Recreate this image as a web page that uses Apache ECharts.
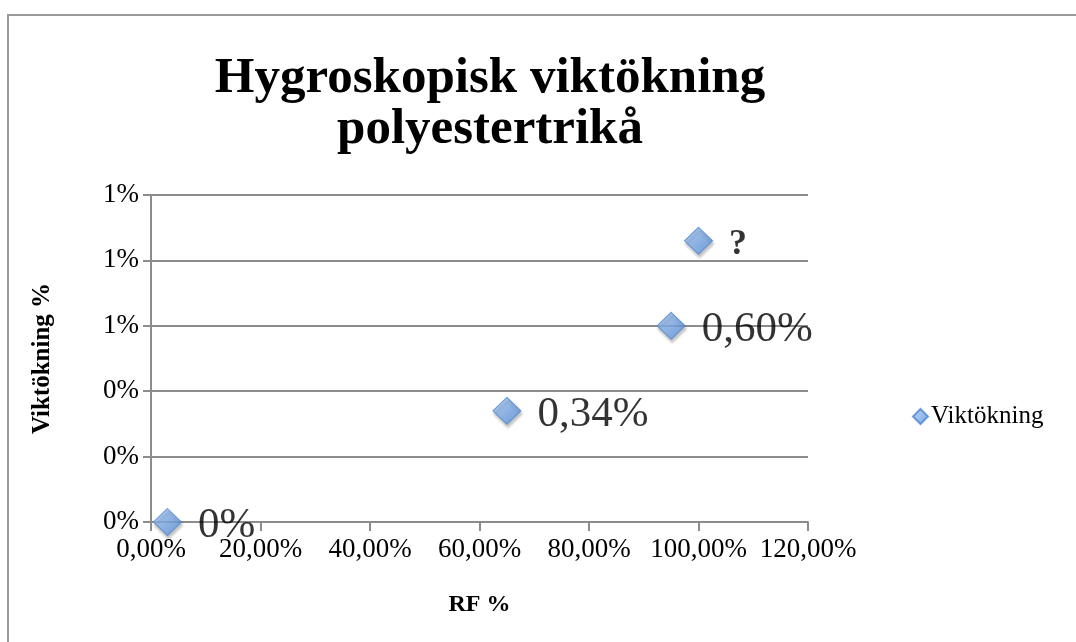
<!DOCTYPE html>
<html>
<head>
<meta charset="utf-8">
<script src="https://cdn.jsdelivr.net/npm/echarts@6/dist/echarts.min.js"></script>
<style>
  html, body { margin: 0; padding: 0; background: #fff; }
  #chart { width: 1076px; height: 642px; }
</style>
</head>
<body>
<div id="chart"></div>
<script>
// RF (fraction) and weight gain (fraction)
const rfValues = [0.03, 0.65, 0.95, 1.0];
const gainValues = [0, 0.0034, 0.006, 0.0086];
const pointLabels = ['0%', '0,34%', '0,60%', '?'];
const seriesName = 'Viktökning';

const FONT = '"Liberation Serif", "DejaVu Serif", serif';

let chart = echarts.init(document.getElementById('chart'));

let points = rfValues.map((x, i) => ({
    value: [x, gainValues[i]],
    label: {
        formatter: pointLabels[i],
        fontWeight: pointLabels[i] === '?' ? 'bold' : 'normal',
        fontSize: pointLabels[i] === '?' ? 36 : 43
    }
}));

chart.setOption({
    animation: false,
    graphic: [{
        type: 'rect',
        shape: { x: 8, y: 15, width: 1200, height: 800 },
        style: { fill: 'none', stroke: '#9a9a9a', lineWidth: 2 },
        silent: true
    }],
    title: {
        text: 'Hygroskopisk viktökning\npolyestertrikå',
        left: 485,
        top: 48,
        textAlign: 'center',
        textStyle: {
            fontFamily: FONT,
            fontWeight: 'bold',
            fontSize: 51,
            lineHeight: 51,
            color: '#000'
        }
    },
    legend: {
        data: [seriesName],
        left: 907,
        top: 399,
        icon: 'diamond',
        itemWidth: 15,
        itemHeight: 15,
        itemGap: 4,
        textStyle: { fontFamily: FONT, fontSize: 25, color: '#000', padding: [0, 0, 0, -2] }
    },
    grid: { left: 151, right: 268, top: 195, bottom: 120 },
    xAxis: {
        type: 'value',
        min: 0,
        max: 1.2,
        interval: 0.2,
        name: 'RF %',
        nameLocation: 'middle',
        nameGap: 71,
        nameTextStyle: { fontFamily: FONT, fontWeight: 'bold', fontSize: 24, color: '#000' },
        axisLine: { lineStyle: { color: '#8c8c8c', width: 2 } },
        axisTick: { show: true, length: 9, lineStyle: { color: '#8c8c8c', width: 2 } },
        splitLine: { show: false },
        axisLabel: {
            fontFamily: FONT, fontSize: 27, color: '#000', margin: 14,
            formatter: v => (v * 100).toFixed(2).replace('.', ',') + '%'
        }
    },
    yAxis: {
        type: 'value',
        min: 0,
        max: 0.01,
        interval: 0.002,
        name: 'Viktökning %',
        nameLocation: 'middle',
        nameRotate: 90,
        nameGap: 96,
        nameTextStyle: { fontFamily: FONT, fontWeight: 'bold', fontSize: 25, color: '#000' },
        axisLine: { show: true, lineStyle: { color: '#8c8c8c', width: 2 } },
        axisTick: { show: true, length: 8, lineStyle: { color: '#8c8c8c', width: 2 } },
        splitLine: { lineStyle: { color: '#8c8c8c', width: 2 } },
        axisLabel: {
            fontFamily: FONT, fontSize: 27, color: '#000', margin: 12,
            formatter: v => Math.round(v * 100) + '%'
        }
    },
    series: [{
        name: seriesName,
        type: 'scatter',
        symbol: 'diamond',
        symbolSize: [28, 27],
        itemStyle: {
            color: new echarts.graphic.LinearGradient(0, 0, 1, 1, [
                { offset: 0, color: '#acccf7' },
                { offset: 1, color: '#5590dc' }
            ]),
            borderColor: '#4f86d0',
            borderWidth: 1,
            shadowColor: 'rgba(0,0,0,0.3)',
            shadowBlur: 3,
            shadowOffsetX: 1,
            shadowOffsetY: 3
        },
        label: {
            show: true,
            position: 'right',
            distance: 16,
            offset: [0, 4],
            fontFamily: FONT,
            color: '#000'
        },
        data: points
    }]
});
</script>
</body>
</html>
